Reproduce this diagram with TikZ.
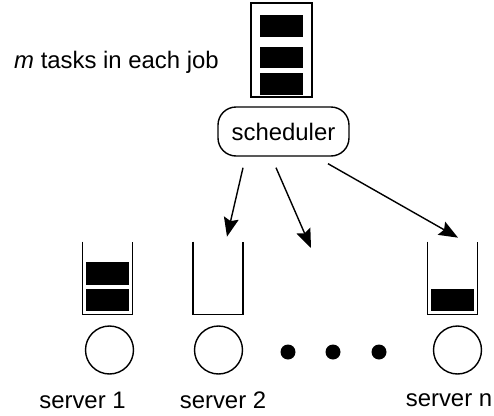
\documentclass[tikz,border=0pt]{standalone}
\usepackage{fontspec}
\setmainfont{Liberation Sans}
\usetikzlibrary{arrows.meta, positioning}

\begin{document}
\begin{tikzpicture}[x=0.02cm, y=-0.02cm,
  every node/.style={font=\fontsize{13.6}{16}\selectfont},
  task/.style={rectangle, fill=black, minimum width=0.88cm, minimum height=0.45cm, inner sep=0pt},
  qbox/.style={rectangle, minimum width=0.98cm, minimum height=1.44cm, inner sep=0pt},
  srv/.style={circle, draw, line width=0.8pt, minimum size=0.96cm, inner sep=0pt},
  dot/.style={circle, fill=black, minimum size=0.3cm, inner sep=0pt},
  lbl/.style={inner sep=0pt},
  wall/.style={line width=0.9pt},
  arr/.style={-{Stealth[length=0.38cm, width=0.3cm, inset=0.06cm]}, line width=0.8pt}
]
\useasboundingbox (0,0) rectangle (494,416);

% job waiting at the scheduler
\node[draw, line width=0.6pt, minimum width=1.22cm, minimum height=1.88cm, inner sep=0pt] (job) at (281.5,50) {};
\node[task, minimum height=0.44cm, below=0.24cm of job.north] (j1) {};
\node[task, minimum height=0.42cm, below=0.18cm of j1] (j2) {};
\node[task, minimum height=0.44cm, below=0.1cm of j2] (j3) {};
\node[lbl] (jobtxt) at (116.5,62.5) {\textit{m} tasks in each job};

\node[draw, rounded corners=0.36cm, line width=0.8pt, minimum width=2.62cm, minimum height=0.98cm] (sched) at (283.5,131.5) {scheduler};

% queues
\node[qbox] (q1) at (107.5,278) {};
\node[qbox] (q2) at (218,278) {};
\node[qbox] (qn) at (452.5,278) {};
\foreach \q in {q1,q2,qn}
  \draw[wall] (\q.north west) |- (\q.south east) -- (\q.north east);

\node[task, anchor=south] (b11) at ([yshift=0.06cm]q1.south) {};
\node[task, above=0.06cm of b11] (b12) {};
\node[task, anchor=south] (bn1) at ([yshift=0.06cm]qn.south) {};

% servers
\node[srv] (s1) at (109.5,350) {};
\node[srv] (s2) at (218.5,350) {};
\node[srv] (sn) at (457.5,350) {};
\foreach \x [count=\i] in {288,333,379}
  \node[dot] (d\i) at (\x,352) {};

\node[lbl] (l1) at (82.5,400) {server 1};
\node[lbl] (l2) at (223,400) {server 2};
\node[lbl] (ln) at (449,400) {server n};

\coordinate (gap) at (311,248);
\draw[arr] ([xshift=-0.81cm, yshift=-0.22cm]sched.south) -- ([xshift=0.18cm, yshift=0.1cm]q2.north);
\draw[arr] ([xshift=-0.15cm, yshift=-0.22cm]sched.south) -- (gap);
\draw[arr] ([xshift=0.89cm, yshift=-0.14cm]sched.south) -- ([xshift=0.11cm, yshift=0.08cm]qn.north);
\end{tikzpicture}
\end{document}
